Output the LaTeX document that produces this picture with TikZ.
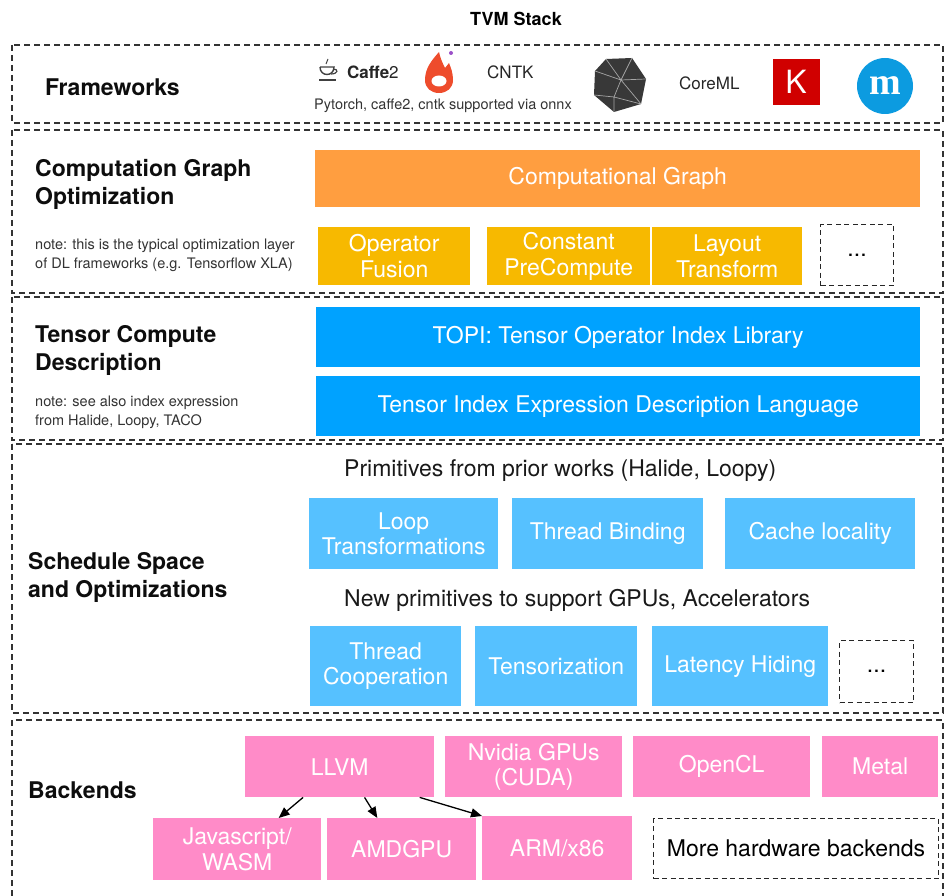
\documentclass[tikz,border=0pt]{standalone}
\usepackage{fontspec}
\setmainfont{TeX Gyre Heros}
\newfontfamily\serifm{Liberation Serif}
\usetikzlibrary{arrows.meta}

\definecolor{cgorange}{HTML}{FF9E40}
\definecolor{passyellow}{HTML}{F7B900}
\definecolor{tensorblue}{HTML}{00A2FF}
\definecolor{schedblue}{HTML}{56C1FF}
\definecolor{backpink}{HTML}{FF8BC8}
\definecolor{torch}{HTML}{EE4C2C}
\definecolor{torchdot}{HTML}{9B4FC8}
\definecolor{kerasred}{HTML}{D00000}
\definecolor{mxblue}{HTML}{0C9BE0}

\begin{document}
\begin{tikzpicture}[x=1pt,y=-1pt,>={Triangle[length=11pt,width=9pt]},
    layer/.style={draw=black!80,line width=1.1pt,dash pattern=on 6pt off 4pt},
    stage/.style={anchor=north west,inner sep=0pt,align=center,text=white,font=\fontsize{23}{25.5}\selectfont},
    more/.style={stage,draw=black!85,line width=1.1pt,dash pattern=on 5pt off 3.5pt,text=black},
    title/.style={anchor=west,align=left,inner sep=0pt,text=black!95,font=\bfseries\fontsize{23}{28}\selectfont},
    note/.style={anchor=west,align=left,inner sep=0pt,text=black!80,font=\fontsize{14.5}{19}\selectfont},
    primcap/.style={anchor=west,inner sep=0pt,text=black!90,font=\fontsize{23}{26}\selectfont},
    logo/.style={anchor=west,inner sep=0pt,text=black!85,font=\fontsize{17}{20}\selectfont}]

\useasboundingbox (0,0) rectangle (946,896);

% layers
\draw[layer] (12,45) rectangle (943,123);
\draw[layer] (12,130) rectangle (943,293);
\draw[layer] (12,297) rectangle (943,440);
\draw[layer] (12,444) rectangle (943,713);
\draw[layer] (12,896) -- (12,720) -- (943,720) -- (943,896);

\node[font=\bfseries\fontsize{18}{20}\selectfont] (stack) at (516,19) {TVM Stack};

% frameworks
\node[title] (fw) at (45,87) {Frameworks};
\draw[black!75,line width=1.4pt] (320,67) -- (334,67) .. controls (334,77) and (320,77) .. (320,67);
\draw[black!75,line width=1.2pt] (333,69) .. controls (339,69) and (338,74) .. (331,74);
\draw[black!75,line width=1.4pt] (319,80) -- (336,80);
\draw[black!75,line width=1pt] (326,64) -- (328,59);
\node[logo] (caffe) at (347,72) {\textbf{Caffe}2};
\fill[torch] (439,52) .. controls (432,60) and (425,68) .. (425,80) .. controls (425,88) and (431,93) .. (439,93)
    .. controls (447,93) and (453,88) .. (453,80) .. controls (453,73) and (451,68) .. (449,63)
    -- (445,68) .. controls (442,62) and (440,57) .. (439,52) -- cycle;
\fill[white] (439,81) ellipse (7.5 and 5.5);
\fill[torchdot] (451,53) circle (2);
\node[logo] (cntk) at (487,72) {CNTK};
\node[note,anchor=center] (onnx) at (443,106) {Pytorch, caffe2, cntk supported via onnx};
\fill[black!78] (606,59) -- (632,58) -- (646,79) -- (641,104) -- (614,112) -- (594,95) -- (595,71) -- cycle;
\draw[black!35,line width=0.7pt] (621,80) -- (606,59) (621,80) -- (632,58) (621,80) -- (646,79)
    (621,80) -- (595,71) (621,80) -- (614,97) -- (594,95) (614,97) -- (641,104)
    (614,97) -- (614,112) (621,80) -- (641,104);
\node[logo] (coreml) at (679,83) {CoreML};
\node[fill=kerasred,text=white,minimum width=47pt,minimum height=46pt,inner sep=0pt,font=\fontsize{32}{32}\selectfont] (keras) at (796,82) {K};
\node[circle,fill=mxblue,text=white,minimum size=56pt,inner sep=0pt,font=\serifm\bfseries\fontsize{38}{38}\selectfont] (mxnet) at (885,86) {m};

% computation graph
\node[title] (cgo) at (35,184) {Computation Graph\\Optimization};
\node[note] (cgnote) at (35,255) {note: this is the typical optimization layer\\of DL frameworks (e.g. Tensorflow XLA)};
\node[stage,fill=cgorange,minimum width=605pt,minimum height=57pt] (graph) at (315,150) {Computational Graph};
\node[stage,fill=passyellow,minimum width=152pt,minimum height=58pt] (fusion) at (318,227) {Operator\\Fusion};
\node[stage,fill=passyellow,minimum width=163pt,minimum height=58pt] (precomp) at (487,227) {Constant\\PreCompute};
\node[stage,fill=passyellow,minimum width=150pt,minimum height=58pt] (layout) at (652,227) {Layout\\Transform};
\node[more,minimum width=73pt,minimum height=61pt] (cgmore) at (820,224) {...};

% tensor compute
\node[title] (tcd) at (35,350) {Tensor Compute\\Description};
\node[note] (tcnote) at (35,412) {note: see also index expression\\from Halide, Loopy, TACO};
\node[stage,fill=tensorblue,minimum width=604pt,minimum height=60pt] (topi) at (316,307) {TOPI: Tensor Operator Index Library};
\node[stage,fill=tensorblue,minimum width=604pt,minimum height=60pt] (tiedl) at (316,376) {Tensor Index Expression Description Language};

% schedule
\node[title] (sched) at (28,577) {Schedule Space\\and Optimizations};
\node[primcap] (prior) at (344,471) {Primitives from prior works (Halide, Loopy)};
\node[stage,fill=schedblue,minimum width=189pt,minimum height=71pt] (loop) at (309,498) {Loop\\Transformations};
\node[stage,fill=schedblue,minimum width=191pt,minimum height=71pt] (bind) at (512,498) {Thread Binding};
\node[stage,fill=schedblue,minimum width=190pt,minimum height=71pt] (cache) at (725,498) {Cache locality};
\node[primcap] (newprim) at (344,600) {New primitives to support GPUs, Accelerators};
\node[stage,fill=schedblue,minimum width=151pt,minimum height=80pt] (coop) at (310,626) {Thread\\Cooperation};
\node[stage,fill=schedblue,minimum width=162pt,minimum height=80pt] (tensorize) at (475,626) {Tensorization};
\node[stage,fill=schedblue,minimum width=176pt,minimum height=80pt] (latency) at (652,626) {Latency Hiding};
\node[more,minimum width=74pt,minimum height=62pt] (schedmore) at (839,640) {...};

% backends
\node[title] (back) at (28,790) {Backends};
\node[stage,fill=backpink,minimum width=189pt,minimum height=61pt] (llvm) at (245,736) {LLVM};
\node[stage,fill=backpink,minimum width=177pt,minimum height=61pt] (cuda) at (445,736) {Nvidia GPUs\\(CUDA)};
\node[stage,fill=backpink,minimum width=177pt,minimum height=61pt] (opencl) at (633,736) {OpenCL};
\node[stage,fill=backpink,minimum width=116pt,minimum height=61pt] (metal) at (822,736) {Metal};
\node[stage,fill=backpink,minimum width=168pt,minimum height=62pt] (js) at (153,818) {Javascript/\\WASM};
\node[stage,fill=backpink,minimum width=149pt,minimum height=62pt] (amd) at (327,818) {AMDGPU};
\node[stage,fill=backpink,minimum width=150pt,minimum height=64pt] (arm) at (482,816) {ARM/x86};
\node[more,minimum width=285pt,minimum height=60pt] (hwmore) at (653,818) {More hardware backends};
\path[->,line width=1.3pt] (llvm.220) edge (js.37);
\path[->,line width=1.3pt] (llvm.-51) edge (amd.128);
\path[->,line width=1.3pt] (llvm.-21) edge (arm.north west);
\end{tikzpicture}
\end{document}
